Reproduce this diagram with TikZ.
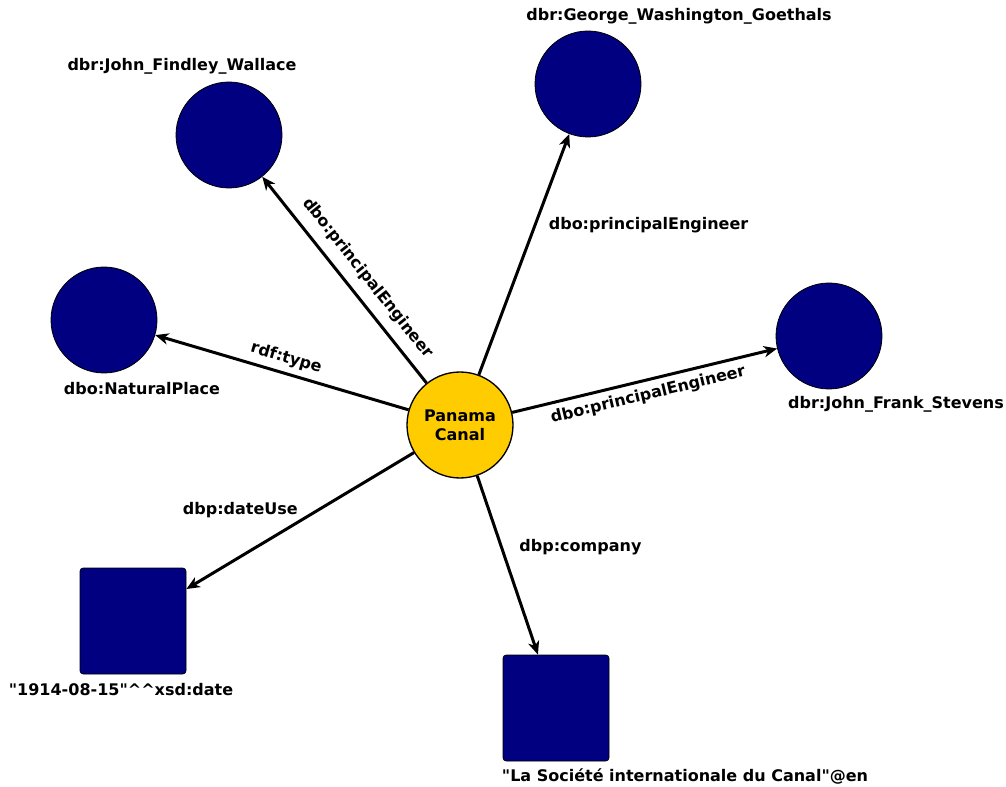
\documentclass[tikz,border=0pt]{standalone}
\usepackage{fontspec}
\setmainfont{DejaVu Sans}
\usetikzlibrary{arrows.meta}
\usetikzlibrary{positioning}
\tikzset{>={Stealth[length=10pt,width=8.5pt,inset=3pt]}}
\definecolor{canal}{RGB}{255,204,0}
\definecolor{res}{RGB}{0,0,128}

\begin{document}
\begin{tikzpicture}[x=0.75pt, y=-0.75pt,
	every node/.style={font=\fontsize{12}{14.5}\selectfont\bfseries},
	hub/.style={circle, draw, line width=1pt, fill=canal, minimum size=79.5pt, inner sep=0pt, align=center},
	uri/.style={circle, draw, line width=0.6pt, fill=res, minimum size=79.5pt, inner sep=0pt},
	lit/.style={rectangle, rounded corners=2.5pt, draw, line width=0.6pt, fill=res, minimum size=79.5pt, inner sep=0pt},
	tag/.style={inner sep=1pt}]
		\useasboundingbox (0,0) rectangle (1006,787);
		\node[hub] (pc) at (460,425) {Panama\\Canal};
		\node[uri] (jfw) at (229,135) {};
		\node[uri] (gwg) at (588,84) {};
		\node[uri] (np)  at (104,320) {};
		\node[uri] (jfs) at (829,336) {};
		\node[lit] (dt)  at (133,621) {};
		\node[lit] (co)  at (556,708) {};
		\node[tag] (jfwl) at (182,66)  {dbr:John\_Findley\_Wallace};
		\node[tag] (gwgl) at (679,16)  {dbr:George\_Washington\_Goethals};
		\node[tag] (npl)  at (142,389) {dbo:NaturalPlace};
		\node[tag] (jfsl) at (896,404) {dbr:John\_Frank\_Stevens};
		\node[tag] (dtl)  at (121,690) {\textquotedbl1914-08-15\textquotedbl\textasciicircum\textasciicircum xsd:date};
		\node[tag] (col)  at (685,776) {\textquotedbl La Société internationale du Canal\textquotedbl @en};
		\path[->, line width=2.25pt]
			(pc) edge node[sloped, above=4pt, pos=0.45] {dbo:principalEngineer} (jfw)
			     edge node[pos=0.62, right=6pt] {dbo:principalEngineer} (gwg)
			     edge node[sloped, above=1pt, pos=0.5] {rdf:type} (np)
			     edge node[sloped, below=1pt, pos=0.5] {dbo:principalEngineer} (jfs)
			     edge node[pos=0.42, left=11pt] {dbp:dateUse} (dt)
			     edge node[pos=0.4, right=9pt] {dbp:company} (co);
	\end{tikzpicture}
\end{document}
